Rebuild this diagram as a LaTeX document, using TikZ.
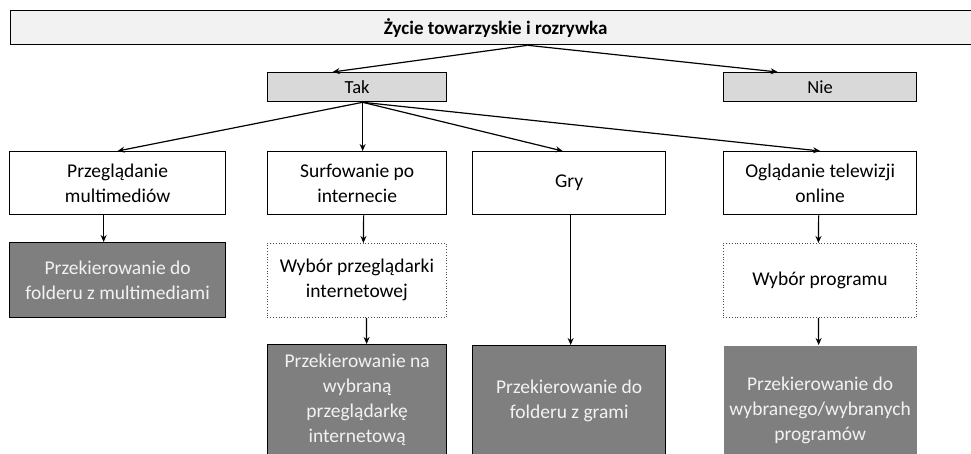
\documentclass[tikz,border=0pt]{standalone}
\usepackage{fontspec}
\setmainfont{Carlito}
\usetikzlibrary{arrows.meta}
\definecolor{titlefill}{HTML}{F2F2F2}
\definecolor{lightfill}{HTML}{D9D9D9}
\definecolor{darkfill}{HTML}{7F7F7F}
\definecolor{darktext}{HTML}{F2F2F2}
\tikzset{
  box/.style={draw=black, line width=1.3pt, anchor=north west, inner sep=0pt,
    align=center, font=\fontsize{19.5}{25}\selectfont},
  lightbox/.style={box, fill=lightfill, font=\fontsize{18.5}{22}\selectfont},
  whitebox/.style={box, fill=white},
  dotbox/.style={box, draw=black!70, line width=0.8pt, dotted},
  darkbox/.style={box, fill=darkfill, text=darktext},
  nobordbox/.style={box, draw=none, fill=darkfill, text=darktext},
  arr/.style={draw=black, line width=1.2pt, -{Stealth[length=7pt,width=6pt]}},
}
\begin{document}
\begin{tikzpicture}[x=1pt,y=-1pt]
\useasboundingbox (0,0) rectangle (971,454);
% title
\node[box, fill=titlefill, minimum width=970pt, minimum height=34pt,
      font=\fontsize{19}{22}\selectfont\bfseries] (title) at (10,10) {Życie towarzyskie i rozrywka};
% Tak / Nie
\node[lightbox, minimum width=179pt, minimum height=29pt] (tak) at (267,72) {Tak};
\node[lightbox, minimum width=193pt, minimum height=29pt] (nie) at (723,72) {Nie};
% row 2
\node[whitebox, minimum width=216pt, minimum height=63pt] (b1) at (9,151) {Przeglądanie\\multimediów};
\node[whitebox, minimum width=179pt, minimum height=63pt] (b2) at (267,151) {Surfowanie po\\internecie};
\node[whitebox, minimum width=193pt, minimum height=63pt] (b3) at (472,151) {Gry};
\node[whitebox, minimum width=193pt, minimum height=63pt] (b4) at (723,151) {Oglądanie telewizji\\online};
% row 3
\node[darkbox, minimum width=216pt, minimum height=75pt] (d1) at (9,242) {Przekierowanie do\\folderu z multimediami};
\node[dotbox, minimum width=179pt, minimum height=74pt] (d2) at (267,243) {Wybór przeglądarki\\internetowej};
\node[dotbox, minimum width=193pt, minimum height=74pt] (d4) at (723,243) {Wybór programu};
% row 4
\node[darkbox, minimum width=179pt, minimum height=111pt] (e2) at (267,344) {Przekierowanie na\\wybraną\\przeglądarkę\\internetową};
\node[darkbox, minimum width=193pt, minimum height=110pt] (e3) at (472,345) {Przekierowanie do\\folderu z grami};
\node[nobordbox, minimum width=193pt, minimum height=130pt] (e4) at (723,345) {Przekierowanie do\\wybranego/wybranych\\programów};
% connectors
\draw[arr] ([xshift=32pt]title.south) -- ([xshift=-24.5pt]tak.north);
\draw[arr] ([xshift=32pt]title.south) -- ([xshift=-42.5pt]nie.north);
\draw[arr] ([xshift=5.5pt]tak.south) -- (b1.north);
\draw[arr] ([xshift=5.5pt]tak.south) -- ([xshift=5.5pt]b2.north);
\draw[arr] ([xshift=5.5pt]tak.south) -- ([xshift=-6.5pt]b3.north);
\draw[arr] ([xshift=5.5pt]tak.south) -- (b4.north);
\draw[arr] ([xshift=-14pt]b1.south) -- ([xshift=-14pt]d1.north);
\draw[arr] ([xshift=6.5pt]b2.south) -- ([xshift=6.5pt]d2.north);
\draw[arr] ([xshift=9.5pt]d2.south) -- ([xshift=9.5pt]e2.north);
\draw[arr] ([xshift=1.5pt]b3.south) -- ([xshift=1.5pt]e3.north);
\draw[arr] ([xshift=-1.5pt]b4.south) -- ([xshift=-1.5pt]d4.north);
\draw[arr] ([xshift=-1.5pt]d4.south) -- ([xshift=-1.5pt]e4.north);
\end{tikzpicture}
\end{document}
